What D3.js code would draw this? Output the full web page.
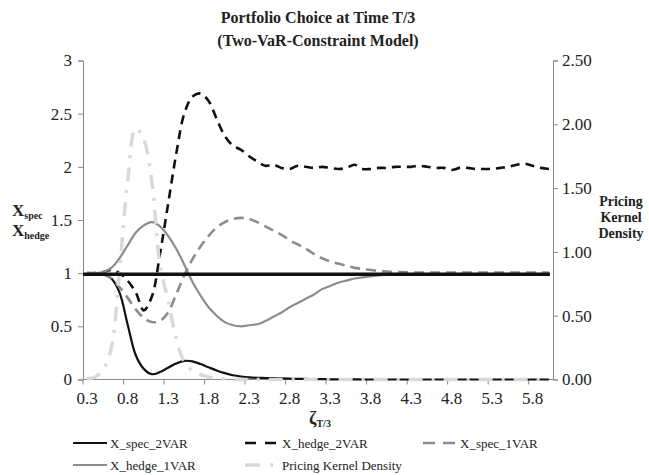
<!DOCTYPE html>
<html>
<head>
  <meta charset="utf-8">
  <title>Portfolio Choice at Time T/3</title>
  <script src="https://cdn.jsdelivr.net/npm/d3@7"></script>
  <style>
    body { margin: 0; background: #fff; }
    svg, svg text { font-family: "Liberation Serif", "Times New Roman", serif; }
  </style>
</head>
<body>
<div id="chart"></div>
<script>
// categories on the x axis (zeta_T/3)
const categories = ["0.3","0.4","0.5","0.6","0.7","0.8","0.9","1.0","1.1","1.2",
  "1.3","1.4","1.5","1.6","1.7","1.8","1.9","2.0","2.1","2.2",
  "2.3","2.4","2.5","2.6","2.7","2.8","2.9","3.0","3.1","3.2",
  "3.3","3.4","3.5","3.6","3.7","3.8","3.9","4.0","4.1","4.2",
  "4.3","4.4","4.5","4.6","4.7","4.8","4.9","5.0","5.1","5.2",
  "5.3","5.4","5.5","5.6","5.7","5.8","5.9","6.0"];
const xTickLabels = ["0.3","0.8","1.3","1.8","2.3","2.8","3.3","3.8","4.3","4.8","5.3","5.8"];
const leftTicks = [0, 0.5, 1, 1.5, 2, 2.5, 3];
const rightTicks = [0, 0.5, 1, 1.5, 2, 2.5];

// left axis series
const xSpec2VAR = [1.0, 1.0, 0.99, 0.95, 0.82, 0.52, 0.23, 0.1, 0.05, 0.07,
  0.11, 0.15, 0.175, 0.17, 0.145, 0.115, 0.085, 0.06, 0.04, 0.028,
  0.02, 0.016, 0.014, 0.012, 0.01, 0.008, 0.006, 0.005, 0.004, 0.003,
  0.002, 0.002, 0.001, 0.001, 0, 0, 0, 0, 0, 0,
  0, 0, 0, 0, 0, 0, 0, 0, 0, 0,
  0, 0, 0, 0, 0, 0, 0, 0];
const xHedge2VAR = [1.0, 1.0, 1.01, 1.03, 1.0, 0.93, 0.82, 0.65, 0.78, 1.18,
  1.65, 2.12, 2.5, 2.66, 2.69, 2.62, 2.45, 2.29, 2.2, 2.16,
  2.1, 2.05, 2.01, 2.02, 1.99, 1.98, 2.01, 2.0, 1.99, 2.0,
  1.99, 1.98, 1.99, 2.02, 1.98, 1.98, 1.99, 1.99, 2.0, 2.0,
  2.0, 2.01, 2.0, 1.99, 1.99, 1.97, 1.99, 1.99, 1.98, 1.98,
  1.98, 1.99, 2.0, 2.02, 2.03, 2.01, 1.99, 1.98];
const xSpec1VAR = [1.0, 1.0, 0.99, 0.95, 0.87, 0.77, 0.66, 0.58, 0.54, 0.55,
  0.63, 0.8, 0.98, 1.13, 1.25, 1.35, 1.43, 1.48, 1.51, 1.52,
  1.51, 1.48, 1.44, 1.4, 1.36, 1.31, 1.27, 1.23, 1.18, 1.14,
  1.11, 1.09, 1.07, 1.05, 1.04, 1.03, 1.02, 1.015, 1.01, 1.01,
  1.005, 1.005, 1.005, 1.005, 1.005, 1.005, 1.005, 1.005, 1.005, 1.005,
  1.005, 1.005, 1.005, 1.005, 1.005, 1.005, 1.005, 1.005];
const xHedge1VAR = [1.0, 1.0, 1.01, 1.05, 1.14, 1.26, 1.38, 1.45, 1.48, 1.44,
  1.35, 1.23, 1.08, 0.92, 0.79, 0.68, 0.6, 0.54, 0.51, 0.5,
  0.51, 0.52, 0.55, 0.59, 0.63, 0.68, 0.72, 0.76, 0.8, 0.85,
  0.88, 0.91, 0.93, 0.95, 0.96, 0.97, 0.98, 0.985, 0.99, 0.99,
  0.99, 0.99, 0.99, 0.99, 0.99, 0.99, 0.99, 0.99, 0.99, 0.99,
  0.99, 0.99, 0.99, 0.99, 0.99, 0.99, 0.99, 0.99];
// right axis series
const kernelDensity = [0.005, 0.02, 0.08, 0.25, 0.85, 1.55, 1.97, 1.88, 1.55, 0.9,
  0.62, 0.32, 0.14, 0.07, 0.04, 0.02, 0.01, 0.005, 0, 0,
  0, 0, 0, 0, 0, 0, 0, 0, 0, 0,
  0, 0, 0, 0, 0, 0, 0, 0, 0, 0,
  0, 0, 0, 0, 0, 0, 0, 0, 0, 0,
  0, 0, 0, 0, 0, 0, 0, 0];
// thick horizontal reference line (no legend entry)
const refLevel = 0.99;

const w = 649, h = 475;
const plotLeft = 83, plotRight = 553, plotTop = 60.5, plotBottom = 379.5;
const serif = "'Liberation Serif', 'Times New Roman', serif";

const svg = d3.select("#chart").append("svg")
  .attr("width", w)
  .attr("height", h)
  .style("display", "block");

const x = d3.scaleBand().domain(categories).range([plotLeft, plotRight]);
const cx = c => x(c) + x.bandwidth() / 2;
const yL = d3.scaleLinear().domain([0, 3]).range([plotBottom, plotTop]);
const yR = d3.scaleLinear().domain([0, 2.5]).range([plotBottom, plotTop]);

// title
svg.append("text")
  .attr("x", 318).attr("y", 23)
  .attr("text-anchor", "middle")
  .attr("font-size", 16).attr("font-weight", "bold").attr("fill", "#222")
  .text("Portfolio Choice at Time T/3");
svg.append("text")
  .attr("x", 318).attr("y", 46)
  .attr("text-anchor", "middle")
  .attr("font-size", 16).attr("font-weight", "bold").attr("fill", "#222")
  .text("(Two-VaR-Constraint Model)");

// axes
const axisColor = "#888";
const gL = svg.append("g")
  .attr("transform", `translate(${plotLeft},0)`)
  .call(d3.axisLeft(yL).tickValues(leftTicks).tickFormat(d => String(d)).tickSize(5).tickPadding(6));
const gR = svg.append("g")
  .attr("transform", `translate(${plotRight},0)`)
  .call(d3.axisRight(yR).tickValues(rightTicks).tickFormat(d3.format(".2f")).tickSize(5).tickPadding(4));
const gB = svg.append("g")
  .attr("transform", `translate(0,${plotBottom})`)
  .call(d3.axisBottom(x).tickValues(xTickLabels).tickSize(0).tickPadding(12));

[gL, gR, gB].forEach(g => {
  g.attr("font-family", serif).attr("font-size", 17);
  g.select(".domain").attr("stroke", axisColor);
  g.selectAll(".tick line").attr("stroke", axisColor);
  g.selectAll("text")
    .style("font-family", serif)
    .style("font-size", "17px")
    .attr("fill", "#222");
});
gB.select(".domain").attr("d", `M${plotLeft},0H${plotRight}`);

// bottom tick marks sit on category boundaries every 5 categories
svg.append("g")
  .selectAll("line")
  .data(categories.filter((c, i) => i % 5 === 0))
  .enter()
  .append("line")
  .attr("x1", d => x(d)).attr("x2", d => x(d))
  .attr("y1", plotBottom).attr("y2", plotBottom + 5)
  .attr("stroke", axisColor);

// lines
const lineL = d3.line()
  .x((d, i) => cx(categories[i]))
  .y(d => yL(d))
  .curve(d3.curveCatmullRom.alpha(0.5));
const lineR = d3.line()
  .x((d, i) => cx(categories[i]))
  .y(d => yR(d))
  .curve(d3.curveCatmullRom.alpha(0.5));

const series = [
  { name: "X_spec_2VAR", data: xSpec2VAR, line: lineL, color: "#111", width: 2.2, dash: null, key: null },
  { name: "X_hedge_2VAR", data: xHedge2VAR, line: lineL, color: "#111", width: 2.6, dash: "9,6", key: "11,9" },
  { name: "X_spec_1VAR", data: xSpec1VAR, line: lineL, color: "#8c8c8c", width: 2.6, dash: "10,6", key: "12,8" },
  { name: "X_hedge_1VAR", data: xHedge1VAR, line: lineL, color: "#8c8c8c", width: 2.2, dash: null, key: null },
  { name: "Pricing Kernel Density", data: kernelDensity, line: lineR, color: "#d9d9d9", width: 3.5, dash: "14,9,3,9", key: "15,10,3,9" }
];

svg.append("g")
  .selectAll("path")
  .data(series)
  .enter()
  .append("path")
  .attr("d", d => d.line(d.data))
  .attr("fill", "none")
  .attr("stroke", d => d.color)
  .attr("stroke-width", d => d.width)
  .attr("stroke-dasharray", d => d.dash)
  .attr("stroke-linejoin", "round");

svg.append("line")
  .attr("x1", cx(categories[0]) - 4).attr("x2", cx(categories[categories.length - 1]) + 1)
  .attr("y1", yL(refLevel)).attr("y2", yL(refLevel))
  .attr("stroke", "#111")
  .attr("stroke-width", 3.5);

// axis titles
const yTitle = svg.append("g").attr("font-weight", "bold").attr("fill", "#222");
[["spec", 216], ["hedge", 236]].forEach(([sub, yy]) => {
  const t = yTitle.append("text").attr("x", 12).attr("y", yy).attr("font-size", 17);
  t.append("tspan").text("X");
  t.append("tspan").attr("font-size", 10).attr("dy", 3).text(sub);
});

const rTitle = svg.append("text")
  .attr("text-anchor", "middle")
  .attr("font-size", 14).attr("font-weight", "bold").attr("fill", "#222");
["Pricing", "Kernel", "Density"].forEach((s, i) => {
  rTitle.append("tspan").attr("x", 621).attr("y", 206 + i * 16).text(s);
});

const xTitle = svg.append("text")
  .attr("x", 309).attr("y", 424)
  .attr("font-weight", "bold").attr("fill", "#222");
xTitle.append("tspan").attr("font-size", 18).text("ζ");
xTitle.append("tspan").attr("font-size", 10).attr("dy", 3).text("T/3");

// legend
const legendPos = [[73, 443], [245, 443], [423, 443], [73, 465], [245, 465]];
const legend = svg.append("g")
  .selectAll("g")
  .data(series)
  .enter()
  .append("g")
  .attr("transform", (d, i) => `translate(${legendPos[i][0]},${legendPos[i][1]})`);
legend.append("line")
  .attr("x1", 0).attr("x2", 34)
  .attr("stroke", d => d.color)
  .attr("stroke-width", d => d.width)
  .attr("stroke-dasharray", d => d.key);
legend.append("text")
  .attr("x", 37).attr("y", 4.5)
  .attr("font-size", 13).attr("fill", "#222")
  .text(d => d.name);
</script>
</body>
</html>
